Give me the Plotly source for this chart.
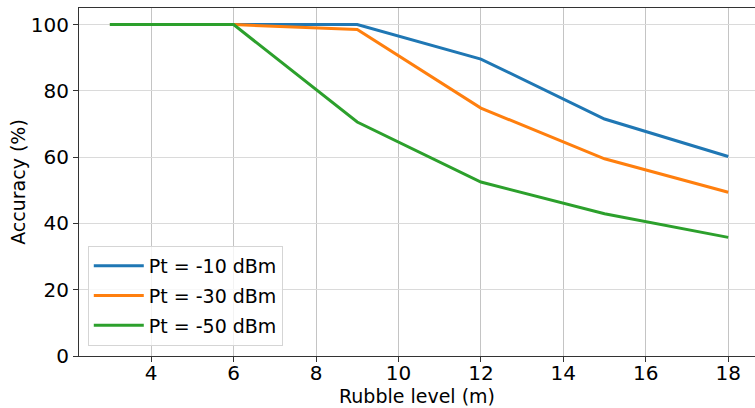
import plotly.graph_objects as go

rubble = [3, 6, 9, 12, 15, 18]
acc_m10 = [100, 100, 100, 89.6, 71.5, 60.2]
acc_m30 = [100, 100, 98.5, 74.8, 59.5, 49.4]
acc_m50 = [100, 100, 70.6, 52.5, 42.9, 35.8]
names = ["Pt = -10 dBm", "Pt = -30 dBm", "Pt = -50 dBm"]
colors = ["#1f77b4", "#ff7f0e", "#2ca02c"]

fig = go.Figure()
for i, (ys, n, c) in enumerate(zip([acc_m10, acc_m30, acc_m50], names, colors)):
    fig.add_trace(go.Scatter(x=rubble, y=ys, mode="lines", name=n,
                             legendgroup=f"g{i}",
                             line=dict(color=c, width=3)))

font = dict(family="DejaVu Sans", size=19, color="black")
tfont = dict(family="DejaVu Sans", size=20, color="black")
fig.update_layout(
    width=755, height=408,
    margin=dict(l=79, r=0, t=8, b=52),
    plot_bgcolor="white", paper_bgcolor="white",
    font=font,
    showlegend=True,
    legend=dict(x=0.013, y=0.029, xanchor="left", yanchor="bottom",
                bgcolor="rgba(255,255,255,0.8)", bordercolor="#d5d5d5", borderwidth=1,
                itemwidth=50, tracegroupgap=2,
                font=dict(family="DejaVu Sans", size=19)),
    xaxis=dict(range=[2.25, 18.65], tickvals=[4, 6, 8, 10, 12, 14, 16, 18],
               showgrid=True, gridcolor="#c4c4c4", gridwidth=1,
               showline=True, linecolor="#333333", linewidth=1, mirror=True,
               ticks="outside", ticklen=5, tickcolor="#333333",
               zeroline=False, tickfont=tfont, ticklabelstandoff=-6,
               title=dict(text="Rubble level (m)", standoff=1, font=font)),
    yaxis=dict(range=[0, 105], tickvals=[0, 20, 40, 60, 80, 100],
               showgrid=True, gridcolor="#dadada", gridwidth=1,
               showline=True, linecolor="#333333", linewidth=1, mirror=True,
               ticks="outside", ticklen=5, tickcolor="#333333",
               zeroline=False, tickfont=tfont,
               title=dict(text="Accuracy (%)", standoff=0, font=font)),
)
fig.write_html("out.html")
